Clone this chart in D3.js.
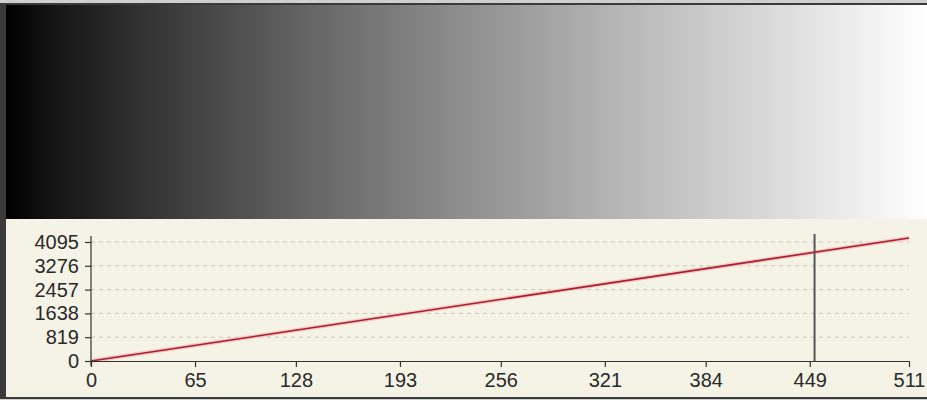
<!DOCTYPE html>
<html>
<head>
<meta charset="utf-8">
<script src="https://cdn.jsdelivr.net/npm/d3@7"></script>
<style>
  html, body { margin: 0; padding: 0; background: #c8c8c8; }
  svg { display: block; }
  .tick text { font-family: "Liberation Sans", Arial, sans-serif; font-size: 20px; fill: #2a2a2a; }
</style>
</head>
<body>
<svg id="chart" width="927" height="400"></svg>
<script>
// ---- data ----
const xTicks = [0, 65, 128, 193, 256, 321, 384, 449, 511];
const yTicks = [0, 819, 1638, 2457, 3276, 4095];
const curveX = [0, 511];
const curveY = [0, 4230];
const markerX = [452];
const gradientStops = [
  {t: 0.00, v: 0},
  {t: 0.05, v: 20},
  {t: 0.15, v: 51},
  {t: 0.32, v: 99},
  {t: 0.50, v: 143},
  {t: 0.67, v: 183},
  {t: 0.85, v: 222},
  {t: 1.00, v: 255}
];

const svg = d3.select("#chart");
const W = 927, H = 400;

// frame
svg.append("rect").attr("x", 0).attr("y", 0).attr("width", W).attr("height", H).attr("fill", "#cfcfcf");
svg.append("rect").attr("x", 0).attr("y", 3).attr("width", W).attr("height", 396).attr("fill", "#3a3a3a");

// gradient strip
const defs = svg.append("defs");
const lg = defs.append("linearGradient").attr("id", "gray").attr("x1", "0%").attr("x2", "100%").attr("y1", "0%").attr("y2", "0%");
gradientStops.forEach(s => {
  lg.append("stop").attr("offset", (s.t * 100) + "%").attr("stop-color", d3.rgb(s.v, s.v, s.v).toString());
});
svg.append("rect").attr("x", 6).attr("y", 5).attr("width", W - 6).attr("height", 214).attr("fill", "url(#gray)");

// cream panel
svg.append("rect").attr("x", 6).attr("y", 219).attr("width", W - 6).attr("height", 178).attr("fill", "#f5f2e6");

// chart area
const x = d3.scaleLinear().domain([0, 511]).range([91, 909]);
const y = d3.scaleLinear().domain([0, 4095]).range([361, 242]);

// grid
svg.append("g").selectAll("line").data(yTicks.filter(d => d > 0)).join("line")
  .attr("x1", x(0)).attr("x2", x(511))
  .attr("y1", d => y(d)).attr("y2", d => y(d))
  .attr("stroke", "#c9c9c2").attr("stroke-width", 1).attr("stroke-dasharray", "4,4");

// curve
const pts = curveX.map((v, i) => [v, curveY[i]]);
const line = d3.line().x(d => x(d[0])).y(d => y(d[1]));
svg.append("path").datum(pts).attr("d", line).attr("fill", "none")
  .attr("stroke", "#f2c4c4").attr("stroke-width", 4);
svg.append("path").datum(pts).attr("d", line).attr("fill", "none")
  .attr("stroke", "#a8202c").attr("stroke-width", 1.6);

// axes
const xAxis = d3.axisBottom(x).tickValues(xTicks).tickSize(6).tickSizeOuter(0).tickPadding(6).tickFormat(d3.format("d"));
const yAxis = d3.axisLeft(y).tickValues(yTicks).tickSize(6).tickSizeOuter(0).tickPadding(6).tickFormat(d3.format("d"));

const gx = svg.append("g").attr("transform", "translate(0,361)").call(xAxis);
const gy = svg.append("g").attr("transform", "translate(91,0)").call(yAxis);
[gx, gy].forEach(g => {
  g.selectAll("path.domain").attr("stroke", "#333").attr("stroke-width", 1.2);
  g.selectAll(".tick line").attr("stroke", "#333").attr("stroke-width", 1.2);
});
gy.select("path.domain").attr("d", `M0,${y(0) + 5}V236`);

// marker line
svg.append("g").selectAll("line").data(markerX).join("line")
  .attr("x1", d => x(d)).attr("x2", d => x(d))
  .attr("y1", 234).attr("y2", 361)
  .attr("stroke", "#555").attr("stroke-width", 2);
</script>
</body>
</html>
